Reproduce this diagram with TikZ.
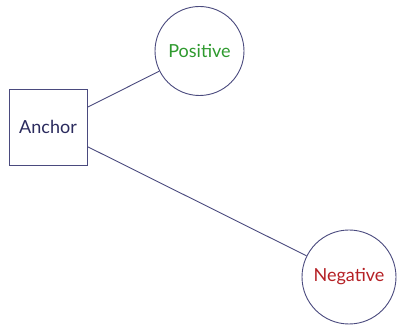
\documentclass[tikz,border=0pt]{standalone}
\usepackage{fontspec}
\setmainfont{Lato}
\definecolor{edgec}{HTML}{4A4A7E}
\definecolor{anchortext}{HTML}{2B2B5E}
\definecolor{postext}{HTML}{2E9A2E}
\definecolor{negtext}{HTML}{B52025}
\begin{document}
\begin{tikzpicture}[x=1pt,y=1pt,
  base/.style={draw=edgec, line width=0.9pt, fill=white, inner sep=0pt, font=\fontsize{18}{21}\selectfont},
  sq/.style={base, rectangle, minimum width=78pt, minimum height=76pt, text=anchortext},
  circ/.style={base, circle},
  conn/.style={draw=edgec, line width=0.9pt}]
\useasboundingbox (0,0) rectangle (397,327);
\node[sq] (anchor) at (48,200) {Anchor};
\node[circ, minimum size=89pt, text=postext] (pos) at (199.5,276) {Positive};
\node[circ, minimum size=94pt, text=negtext] (neg) at (349,50) {Negative};
\draw[conn] (anchor) -- (pos);
\draw[conn] (anchor) -- (neg);
\end{tikzpicture}
\end{document}
